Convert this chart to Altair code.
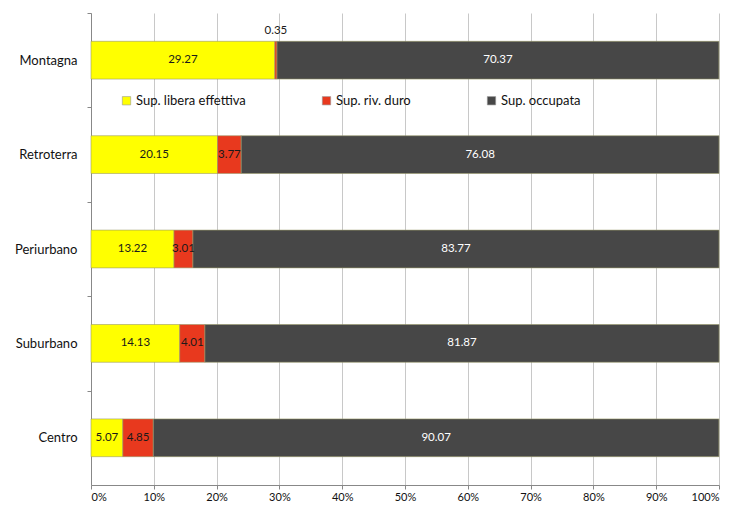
import altair as alt
import pandas as pd

categories = ["Montagna", "Retroterra", "Periurbano", "Suburbano", "Centro"]
series = ["Sup. libera effettiva", "Sup. riv. duro", "Sup. occupata"]
libera = [29.27, 20.15, 13.22, 14.13, 5.07]
riv_duro = [0.35, 3.77, 3.01, 4.01, 4.85]
occupata = [70.37, 76.08, 83.77, 81.87, 90.07]
colors = ["#FFFF00", "#E8391E", "#474747"]
x_ticks = [0, 10, 20, 30, 40, 50, 60, 70, 80, 90, 100]

rows = []
for i, c in enumerate(categories):
    for k, (s, vals) in enumerate(zip(series, [libera, riv_duro, occupata])):
        rows.append({"cat": c, "serie": s, "val": vals[i], "ord": k,
                     "lab": f"{vals[i]:.2f}"})
df = pd.DataFrame(rows)

FONT = "Lato"
H = 472
W = 628
step = H / 5

base = alt.Chart(df).transform_stack(
    stack="val", groupby=["cat"], as_=["x0", "x1"], sort=[alt.SortField("ord")]
).transform_calculate(mid="(datum.x0 + datum.x1) / 2")

y_enc = alt.Y("cat:N", sort=categories, title=None,
              scale=alt.Scale(paddingInner=0.6, paddingOuter=0.3),
              axis=alt.Axis(domainColor="#888888", tickColor="#888888", tickSize=4,
                            tickOffset=-step / 2, labelOffset=step / 2,
                            labelPadding=10, labelFontSize=13, labelFont=FONT,
                            labelColor="#111111", grid=False))

bars = base.mark_bar(stroke="#9a9a6a", strokeWidth=0.6).encode(
    y=y_enc,
    x=alt.X("x0:Q", title=None, scale=alt.Scale(domain=[0, 100], nice=False),
            axis=alt.Axis(values=x_ticks, labelExpr="datum.value + '%'",
                          grid=True, gridColor="#c8c8c8", domainColor="#888888",
                          tickColor="#888888", tickSize=4, labelPadding=2,
                          labelFontSize=11, labelFont=FONT, labelColor="#111111")),
    x2="x1:Q",
    color=alt.Color("serie:N", sort=series,
                    scale=alt.Scale(domain=series, range=colors),
                    legend=alt.Legend(title=None, orient="none", legendX=29, legendY=81,
                                      direction="horizontal", columns=3,
                                      columnPadding=74, gridAlign="each",
                                      symbolType="square", symbolSize=70,
                                      symbolStrokeColor="#999999", symbolStrokeWidth=0.6,
                                      labelFontSize=13, labelFont=FONT,
                                      labelColor="#111111", labelOffset=3)),
    order=alt.Order("ord:Q"),
)

labels = base.transform_filter("datum.val >= 1").mark_text(
    fontSize=11.5, font=FONT
).encode(
    y=alt.Y("cat:N", sort=categories),
    x="mid:Q",
    text="lab:N",
    color=alt.condition("datum.ord == 2", alt.value("#ffffff"), alt.value("#1a1a1a")),
)

small = base.transform_filter("datum.val < 1").mark_text(
    fontSize=11.5, font=FONT, dy=-29, color="#1a1a1a"
).encode(
    y=alt.Y("cat:N", sort=categories),
    x="mid:Q",
    text="lab:N",
)

chart = alt.layer(bars, labels, small).properties(
    width=W, height=H,
    autosize=alt.AutoSizeParams(type="none"),
    padding={"left": 83, "top": 5, "right": 9, "bottom": 17},
).configure_view(stroke=None)

chart.save("out.html", embed_options={"renderer": "svg", "actions": False})
